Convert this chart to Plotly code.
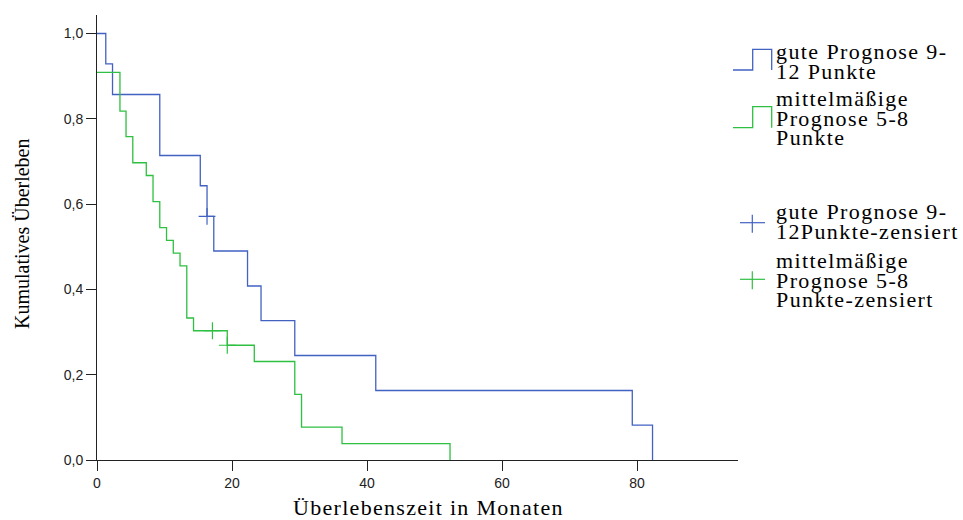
import plotly.graph_objects as go

# Kaplan-Meier estimates (time in months, cumulative survival)
gute_t = [0, 1.3, 2.3, 9.3, 15.3, 16.3, 17.3, 22.3, 24.3, 29.3, 41.3, 79.3, 82.3]
gute_s = [1.0, 0.929, 0.857, 0.714, 0.643, 0.571, 0.490, 0.408, 0.327, 0.245, 0.163, 0.082, 0.0]
gute_cens_t = [16.3]
gute_cens_s = [0.571]

mittel_t = [0, 3.4, 4.3, 5.3, 7.3, 8.3, 9.3, 10.3, 11.3, 12.3, 13.3, 14.3,
            19.3, 23.3, 29.3, 30.3, 36.3, 52.3]
mittel_s = [0.909, 0.818, 0.758, 0.697, 0.667, 0.606, 0.545, 0.515, 0.485, 0.455,
            0.333, 0.303, 0.269, 0.231, 0.154, 0.077, 0.0385, 0.0]
mittel_cens_t = [17.1, 19.3]
mittel_cens_s = [0.303, 0.269]

x_ticks = [0, 20, 40, 60, 80]
y_ticks = [0.0, 0.2, 0.4, 0.6, 0.8, 1.0]

legend_labels = [
    ["gute Prognose 9-", "12 Punkte"],
    ["mittelmäßige", "Prognose 5-8", "Punkte"],
    ["gute Prognose 9-", "12Punkte-zensiert"],
    ["mittelmäßige", "Prognose 5-8", "Punkte-zensiert"],
]

BLUE = "#4262c2"
GREEN = "#2ec040"
SERIF = "Liberation Serif"
SANS = "Liberation Sans"

W, H = 963, 520
ML, MR, MT, MB = 97, 225, 15, 60
PW, PH = W - ML - MR, H - MT - MB


def px_x(p):
    return (p - ML) / PW


def px_y(p):
    return (H - MB - p) / PH


def wide(text, size, spacing):
    return "<span style='font-size:{}px;letter-spacing:{}px'>{}</span>".format(
        size, spacing, text)


fig = go.Figure()
fig.add_trace(go.Scatter(x=gute_t, y=gute_s, mode="lines", line_shape="hv",
                         line=dict(color=BLUE, width=1.3), showlegend=False))
fig.add_trace(go.Scatter(x=mittel_t, y=mittel_s, mode="lines", line_shape="hv",
                         line=dict(color=GREEN, width=1.3), showlegend=False))
fig.add_trace(go.Scatter(x=gute_cens_t, y=gute_cens_s, mode="markers",
                         marker=dict(symbol="cross-thin", size=12,
                                     line=dict(color=BLUE, width=1.2)),
                         showlegend=False))
fig.add_trace(go.Scatter(x=mittel_cens_t, y=mittel_cens_s, mode="markers",
                         marker=dict(symbol="cross-thin", size=12,
                                     line=dict(color=GREEN, width=1.2)),
                         showlegend=False))

shapes = []
annotations = []


# legend glyphs: step lines for the curves, crosses for censored cases
def step_glyph(y_low, y_high, color):
    pts = [(733, y_low), (752.7, y_low), (752.7, y_high), (771.7, y_high), (771.7, y_low)]
    path = "M " + " L ".join("{:.5f},{:.5f}".format(px_x(a), px_y(b)) for a, b in pts)
    return dict(type="path", xref="paper", yref="paper", path=path,
                line=dict(color=color, width=1.3))


def cross_glyph(cy, color):
    return [
        dict(type="line", xref="paper", yref="paper", x0=px_x(740), x1=px_x(765),
             y0=px_y(cy), y1=px_y(cy), line=dict(color=color, width=1.2)),
        dict(type="line", xref="paper", yref="paper", x0=px_x(752.3), x1=px_x(752.3),
             y0=px_y(cy - 8), y1=px_y(cy + 10), line=dict(color=color, width=1.2)),
    ]


shapes.append(step_glyph(70, 49.3, BLUE))
shapes.append(step_glyph(127.7, 106.7, GREEN))
shapes += cross_glyph(222.7, BLUE)
shapes += cross_glyph(279.3, GREEN)

# legend texts: one block per entry, tight line pitch (base size sets the pitch)
LEG_SIZE = 22
LEG_PITCH_BASE = 15
first_baselines = [57, 104, 217, 266]
for lines, bl in zip(legend_labels, first_baselines):
    txt = "<br>".join(wide(t, LEG_SIZE, 1.4) for t in lines)
    annotations.append(dict(
        text=txt, xref="paper", yref="paper", x=px_x(774), y=px_y(bl - 20),
        xanchor="left", yanchor="top", align="left", showarrow=False,
        font=dict(family=SERIF, size=LEG_PITCH_BASE, color="black")))

# axis titles
annotations.append(dict(
    text=wide("Überlebenszeit in Monaten", 22, 1.3), xref="paper", yref="paper",
    x=px_x(428), y=px_y(507), xanchor="center", yanchor="middle", showarrow=False,
    font=dict(family=SERIF, size=22, color="black")))
annotations.append(dict(
    text="Kumulatives Überleben", xref="paper", yref="paper",
    x=px_x(22), y=px_y(234), xanchor="center", yanchor="middle", showarrow=False,
    textangle=-90, font=dict(family=SERIF, size=20, color="black")))

fig.update_layout(
    width=W, height=H,
    margin=dict(l=ML, r=MR, t=MT, b=MB, pad=0),
    paper_bgcolor="white", plot_bgcolor="white",
    separators=",.",
    shapes=shapes, annotations=annotations,
    xaxis=dict(range=[0, PW / 6.75], tickvals=x_ticks, ticks="outside", ticklen=10,
               tickcolor="#222", showline=True, linecolor="#222", linewidth=1,
               showgrid=False, zeroline=False,
               tickfont=dict(family=SANS, size=14, color="#222")),
    yaxis=dict(range=[0, PH / 426.5], tickvals=y_ticks, tickformat=".1f",
               ticks="outside", ticklen=10, tickcolor="#222",
               showline=True, linecolor="#222", linewidth=1,
               showgrid=False, zeroline=False,
               tickfont=dict(family=SANS, size=14, color="#222")),
)

fig.write_html("out.html")
